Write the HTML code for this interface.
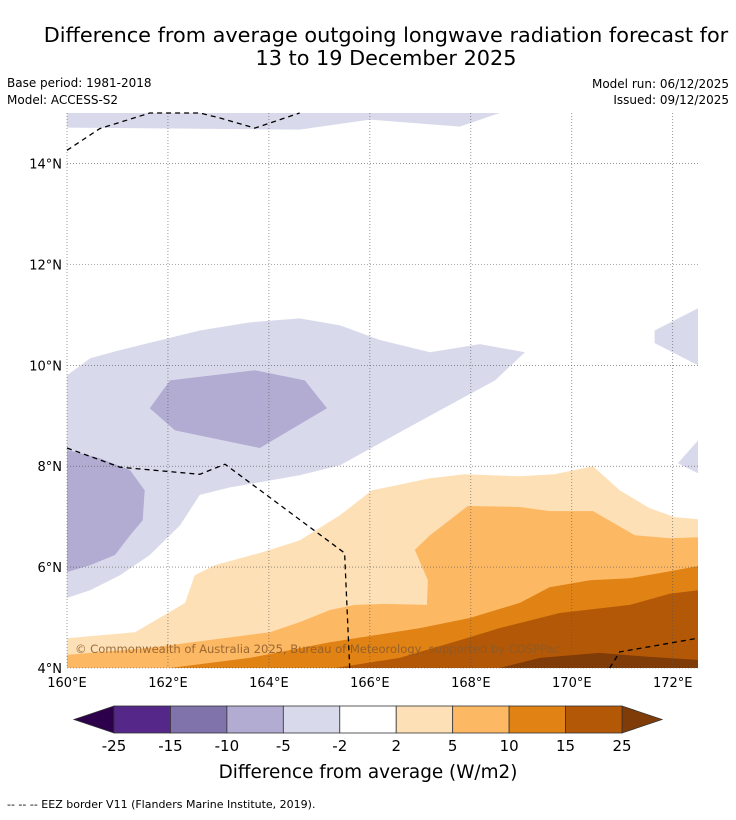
<!DOCTYPE html>
<html><head><meta charset="utf-8"><style>
body{margin:0;background:#fff;font-family:"DejaVu Sans","Liberation Sans",sans-serif;}
svg text{font-family:"DejaVu Sans","Liberation Sans",sans-serif;}
</style></head><body>
<svg id="c" width="736" height="816" xmlns="http://www.w3.org/2000/svg">
<rect width="736" height="816" fill="#fff"/>
<text x="386" y="42" font-size="20.8" text-anchor="middle">Difference from average outgoing longwave radiation forecast for</text>
<text x="386" y="65" font-size="20.8" text-anchor="middle">13 to 19 December 2025</text>
<text x="7" y="87" font-size="12">Base period: 1981-2018</text>
<text x="7" y="104" font-size="12">Model: ACCESS-S2</text>
<text x="729" y="88" font-size="12" text-anchor="end">Model run: 06/12/2025</text>
<text x="729" y="104" font-size="12" text-anchor="end">Issued: 09/12/2025</text>
<g id="map"></g>
<g id="cb"></g>
<text x="368" y="778" font-size="18.4" text-anchor="middle">Difference from average (W/m2)</text>
<text x="7" y="808" font-size="11">--  --  -- EEZ border V11 (Flanders Marine Institute, 2019).</text>
</svg>
<script>
const lonTicks=[160,162,164,166,168,170,172];
const latTicks=[4,6,8,10,12,14];
const levels=["-25","-15","-10","-5","-2","2","5","10","15","25"];
const levelColors=["#542788","#8073ac","#b2abd2","#d8daeb","#ffffff","#fee0b6","#fdb863","#e08214","#b35806"];
const lightPurpleTop=[[160,15],[168.57,15],[167.78,14.73],[166.0,14.87],[164.61,14.67],[160,14.71]];
const lightPurpleBand=[[160,9.8],[160.46,10.14],[161.05,10.3],[162.63,10.69],[163.62,10.85],[164.61,10.93],[165.41,10.79],[166.2,10.5],[167.19,10.26],[168.18,10.42],[169.07,10.26],[168.48,9.7],[167.39,9.11],[165.41,8.02],[164.61,7.82],[163.23,7.58],[162.63,7.43],[162.24,6.83],[161.64,6.24],[161.05,5.84],[160.46,5.54],[160,5.39]];
const lightPurpleRight1=[[171.64,10.69],[172.5,11.13],[172.5,10.0],[171.64,10.44]];
const lightPurpleRight2=[[172.1,8.06],[172.5,8.51],[172.5,7.86]];
const midPurpleBlob=[[161.64,9.15],[162.04,9.7],[163.72,9.9],[164.71,9.7],[165.15,9.15],[163.82,8.36],[162.14,8.71]];
const midPurpleLeft=[[160,8.32],[160.65,8.16],[161.25,7.92],[161.54,7.52],[161.5,6.93],[161.25,6.63],[160.95,6.24],[160.46,6.04],[160,5.9]];
const orange1=[[160,4.59],[161.35,4.71],[162.34,5.29],[162.53,5.84],[162.93,6.04],[163.82,6.28],[164.61,6.53],[165.41,7.03],[166.04,7.52],[167.19,7.76],[167.88,7.84],[168.97,7.8],[169.66,7.84],[170.42,8.0],[170.95,7.52],[171.54,7.17],[172.04,6.99],[172.5,6.95],[172.5,4],[160,4]];
const orange2=[[160,4.26],[161.64,4.4],[164.02,4.71],[164.61,4.91],[165.21,5.15],[165.7,5.25],[166.3,5.27],[167.13,5.25],[167.15,5.74],[166.89,6.34],[167.19,6.63],[167.94,7.21],[168.97,7.19],[169.56,7.11],[170.42,7.11],[171.25,6.63],[171.94,6.57],[172.5,6.59],[172.5,4],[160,4]];
const orange3=[[162.04,4.0],[163.62,4.2],[165.21,4.51],[166.99,4.79],[167.98,4.99],[168.97,5.29],[169.56,5.6],[170.36,5.74],[171.15,5.78],[171.74,5.88],[172.5,6.02],[172.5,4]];
const orange4=[[165.31,4],[166.59,4.2],[167.78,4.55],[168.57,4.79],[169.76,5.09],[171.15,5.25],[171.94,5.47],[172.5,5.54],[172.5,4]];
const orange5=[[168.57,4],[169.37,4.2],[170.55,4.3],[171.54,4.22],[172.5,4.16],[172.5,4]];
const eezTop=[[160,14.26],[160.65,14.69],[161.64,15],[162.63,15],[163.03,14.9],[163.72,14.7],[164.61,15]];
const eezMid=[[160,8.36],[161.05,7.98],[162.63,7.84],[163.13,8.04],[164.22,7.23],[165.5,6.28],[165.6,4.0]];
const eezBot=[[170.75,4],[170.95,4.32],[172.5,4.59]];
const NS="http://www.w3.org/2000/svg";
const X0=67,X1=698,Y0=113,Y1=668,LON0=160,LON1=172.5,LAT0=4,LAT1=15;
const xs=l=>X0+(l-LON0)/(LON1-LON0)*(X1-X0);
const ys=l=>Y1-(l-LAT0)/(LAT1-LAT0)*(Y1-Y0);
const map=document.getElementById('map');
function mk(t,a,p){const e=document.createElementNS(NS,t);for(const k in a)e.setAttribute(k,a[k]);(p||map).appendChild(e);return e;}
function poly(pts,fill,name){const e=mk('polygon',{points:pts.map(p=>xs(p[0]).toFixed(1)+','+ys(p[1]).toFixed(1)).join(' '),fill:fill});

}
function line(pts,name){const e=mk('polyline',{points:pts.map(p=>xs(p[0]).toFixed(1)+','+ys(p[1]).toFixed(1)).join(' '),fill:'none',stroke:'#000','stroke-width':1.3,'stroke-dasharray':'5,4'});

}
poly(lightPurpleTop,levelColors[3],'contour-light-purple-top');
poly(lightPurpleBand,levelColors[3],'contour-light-purple-band');
poly(lightPurpleRight1,levelColors[3],'contour-light-purple-right');
poly(lightPurpleRight2,levelColors[3],'contour-light-purple-right-2');
poly(midPurpleBlob,levelColors[2],'contour-mid-purple-blob');
poly(midPurpleLeft,levelColors[2],'contour-mid-purple-left');
poly(orange1,levelColors[5],'contour-2-5');
poly(orange2,levelColors[6],'contour-5-10');
poly(orange3,levelColors[7],'contour-10-15');
poly(orange4,levelColors[8],'contour-15-25');
poly(orange5,'#7f3b08','contour-above-25');
lonTicks.forEach(l=>{const g=mk('line',{x1:xs(l),x2:xs(l),y1:Y0,y2:Y1,stroke:'#555','stroke-width':0.6,'stroke-dasharray':'1,2'});


const t=mk('text',{x:xs(l),y:Y1+19,'font-size':13,'text-anchor':'middle'});t.textContent=l+'°E';

});
latTicks.forEach(l=>{const g=mk('line',{x1:X0,x2:X1,y1:ys(l),y2:ys(l),stroke:'#555','stroke-width':0.6,'stroke-dasharray':'1,2'});


const t=mk('text',{x:X0-5,y:ys(l)+5,'font-size':13,'text-anchor':'end'});t.textContent=l+'°N';

});
line(eezTop,'eez-border-top');
line(eezMid,'eez-border-middle');
line(eezBot,'eez-border-bottom');
const cr=mk('text',{x:75,y:653,'font-size':11.6,fill:'#8a5a2a','fill-opacity':0.85,textLength:485});cr.textContent='© Commonwealth of Australia 2025, Bureau of Meteorology, supported by COSPPac';


const cb=document.getElementById('cb');
const CB0=114,CB1=622,CBY=706,CBH=27,n=levelColors.length,w=(CB1-CB0)/n;
const a1=mk('polygon',{points:`74,${CBY+CBH/2} ${CB0},${CBY} ${CB0},${CBY+CBH}`,fill:'#2d004b',stroke:'#333','stroke-width':0.8},cb);


const a2=mk('polygon',{points:`662,${CBY+CBH/2} ${CB1},${CBY} ${CB1},${CBY+CBH}`,fill:'#7f3b08',stroke:'#333','stroke-width':0.8},cb);


levelColors.forEach((c,i)=>{const r=mk('rect',{x:CB0+i*w,y:CBY,width:w,height:CBH,fill:c,stroke:'#333','stroke-width':0.8},cb);

});
levels.forEach((s,i)=>{const t=mk('text',{x:CB0+i*w,y:751,'font-size':15,'text-anchor':'middle'},cb);t.textContent=s;

});
</script>
</body></html>
